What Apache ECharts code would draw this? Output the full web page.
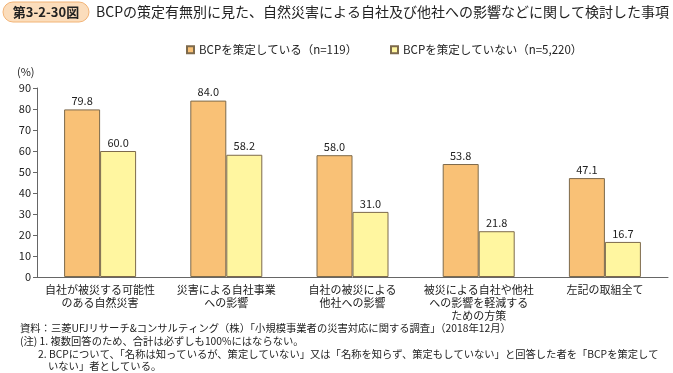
<!DOCTYPE html>
<html><head><meta charset="utf-8">
<script src="https://cdn.jsdelivr.net/npm/echarts@6/dist/echarts.min.js"></script>
<style>html,body{margin:0;padding:0;background:#fff}#c{width:673px;height:373px}</style>
</head><body><div id="c"></div>
<script>
const categories = ['自社が被災する可能性\nのある自然災害', '災害による自社事業\nへの影響', '自社の被災による\n他社への影響', '被災による自社や他社\nへの影響を軽減する\nための方策', '左記の取組全て'];
const seriesNames = ['BCPを策定している（n=119）', 'BCPを策定していない（n=5,220）'];
const withBCP = [79.8, 84.0, 58.0, 53.8, 47.1];
const withoutBCP = [60.0, 58.2, 31.0, 21.8, 16.7];
const yTicks = [0, 90, 10];
const FONT = '"Noto Sans CJK JP", "Noto Sans", sans-serif';
const chart = echarts.init(document.getElementById('c'));
chart.setOption({
  animation: false,
  textStyle: {fontFamily: FONT},
  grid: {left: 37, right: 5, top: 88, bottom: 96, containLabel: false},
  legend: [
    {data: [seriesNames[0]], left: 181, top: 39, icon: 'rect', itemWidth: 7, itemHeight: 7, itemGap: 4,
     textStyle: {fontFamily: FONT, fontSize: 11.5, color: '#222'}},
    {data: [seriesNames[1]], left: 385, top: 39, icon: 'rect', itemWidth: 7, itemHeight: 7, itemGap: 4,
     textStyle: {fontFamily: FONT, fontSize: 11.5, color: '#222'}}
  ],
  xAxis: {
    type: 'category', data: categories,
    axisLine: {lineStyle: {color: '#666'}},
    axisTick: {inside: true, length: 4, lineStyle: {color: '#666'}},
    axisLabel: {fontFamily: FONT, fontSize: 11, color: '#222', lineHeight: 13, margin: 6, interval: 0}
  },
  yAxis: {
    type: 'value', min: yTicks[0], max: yTicks[1], interval: yTicks[2],
    axisLine: {show: true, lineStyle: {color: '#666'}},
    axisTick: {show: true, length: 4, lineStyle: {color: '#666'}},
    splitLine: {show: false},
    axisLabel: {fontFamily: FONT, fontSize: 11, color: '#222', margin: 6}
  },
  series: [
    {name: seriesNames[0], type: 'bar', data: withBCP, barWidth: 36, barGap: '0%',
     itemStyle: {color: '#F9C176', borderColor: '#7d6a4c', borderWidth: 1},
     label: {show: true, position: 'top', distance: 3, fontFamily: FONT, fontSize: 11, color: '#222', formatter: p => p.value.toFixed(1)}},
    {name: seriesNames[1], type: 'bar', data: withoutBCP, barWidth: 36, barGap: '0%',
     itemStyle: {color: '#FFF6A0', borderColor: '#7d6a4c', borderWidth: 1},
     label: {show: true, position: 'top', distance: 3, fontFamily: FONT, fontSize: 11, color: '#222', formatter: p => p.value.toFixed(1)}}
  ],
  graphic: [
    {type: 'rect', shape: {x: 3, y: 2, width: 86, height: 20, r: 10}, style: {fill: '#FBDDBC', stroke: '#F2B477', lineWidth: 1}},
    {type: 'text', x: 46, y: 12, style: {text: '第3-2-30図', fontFamily: FONT, fontSize: 13, fontWeight: 'bold', fill: '#222', align: 'center', verticalAlign: 'middle'}},
    {type: 'text', x: 96, y: 12, style: {text: 'BCPの策定有無別に見た、自然災害による自社及び他社への影響などに関して検討した事項', fontFamily: FONT, fontSize: 14, fill: '#222', verticalAlign: 'middle'}},
    {type: 'text', x: 17, y: 72, style: {text: '(%)', fontFamily: FONT, fontSize: 11, fill: '#222', verticalAlign: 'middle'}},
    {type: 'text', x: 20, y: 328, style: {text: '資料：三菱UFJリサーチ&コンサルティング（株）「小規模事業者の災害対応に関する調査」（2018年12月）', fontFamily: FONT, fontSize: 10.3, fill: '#222', verticalAlign: 'middle'}},
    {type: 'text', x: 20, y: 341, style: {text: '(注) 1. 複数回答のため、合計は必ずしも100%にはならない。', fontFamily: FONT, fontSize: 10.3, fill: '#222', verticalAlign: 'middle'}},
    {type: 'text', x: 38, y: 354, style: {text: '2. BCPについて、「名称は知っているが、策定していない」又は「名称を知らず、策定もしていない」と回答した者を「BCPを策定して', fontFamily: FONT, fontSize: 10.3, fill: '#222', verticalAlign: 'middle'}},
    {type: 'text', x: 48, y: 366, style: {text: 'いない」者としている。', fontFamily: FONT, fontSize: 10.3, fill: '#222', verticalAlign: 'middle'}}
  ]
});
</script></body></html>
